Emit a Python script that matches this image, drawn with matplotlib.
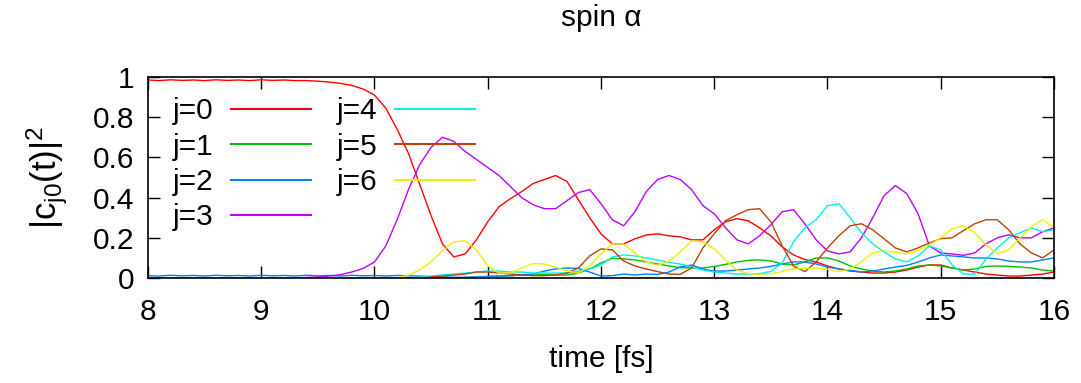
import numpy as np
import matplotlib
matplotlib.use("Agg")
import matplotlib.pyplot as plt

plt.rcParams['font.family'] = ['Liberation Sans', 'DejaVu Sans']
plt.rcParams['mathtext.default'] = 'regular'

# time grid [fs]
t = np.linspace(8.0, 16.0, 81)

# |c_j0(t)|^2, one value every 0.1 fs
j0 = [0.985, 0.982, 0.986, 0.983, 0.985, 0.982, 0.986, 0.983, 0.985, 0.982,
      0.986, 0.983, 0.985, 0.982, 0.982, 0.979, 0.975, 0.968, 0.958, 0.940,
      0.910, 0.845, 0.740, 0.620, 0.465, 0.310, 0.170, 0.105, 0.120, 0.190,
      0.280, 0.355, 0.395, 0.430, 0.470, 0.490, 0.510, 0.480, 0.390, 0.300,
      0.220, 0.170, 0.170, 0.195, 0.214, 0.220, 0.210, 0.205, 0.190, 0.190,
      0.240, 0.280, 0.295, 0.285, 0.250, 0.210, 0.155, 0.115, 0.092, 0.080,
      0.060, 0.045, 0.035, 0.030, 0.025, 0.025, 0.030, 0.040, 0.055, 0.065,
      0.065, 0.050, 0.040, 0.030, 0.020, 0.015, 0.010, 0.010, 0.015, 0.020,
      0.030]
j1 = [0.0] * 28 + [
      0.003, 0.005,
      0.008, 0.010, 0.012, 0.015, 0.015, 0.018, 0.015, 0.015, 0.025, 0.045,
      0.075, 0.098, 0.095, 0.090, 0.080, 0.070, 0.060, 0.052, 0.050, 0.050,
      0.058, 0.068, 0.080, 0.088, 0.090, 0.085, 0.070, 0.065, 0.080, 0.100,
      0.100, 0.085, 0.060, 0.045, 0.035, 0.030, 0.035, 0.045, 0.060, 0.065,
      0.060, 0.050, 0.040, 0.045, 0.058, 0.060, 0.058, 0.055, 0.050, 0.040,
      0.035]
j2 = [0.012, 0.010, 0.014, 0.011, 0.013, 0.010, 0.014, 0.011, 0.013, 0.010,
      0.014, 0.011, 0.013, 0.010, 0.014, 0.011, 0.013, 0.010, 0.014, 0.011,
      0.013, 0.010, 0.013, 0.011, 0.010, 0.007, 0.005, 0.004, 0.004, 0.005,
      0.008, 0.010, 0.012, 0.015, 0.020, 0.035, 0.045, 0.050, 0.048, 0.030,
      0.010, 0.012, 0.020, 0.015, 0.020, 0.018, 0.030, 0.055, 0.065, 0.045,
      0.035, 0.035, 0.040, 0.045, 0.050, 0.058, 0.070, 0.080, 0.080, 0.070,
      0.055, 0.045, 0.038, 0.030, 0.035, 0.045, 0.055, 0.063, 0.080, 0.100,
      0.115, 0.110, 0.105, 0.100, 0.100, 0.095, 0.085, 0.080, 0.080, 0.090,
      0.100]
j3 = [0.0] * 14 + [
      0.003, 0.005, 0.010, 0.017, 0.030, 0.048,
      0.080, 0.160, 0.290, 0.440, 0.565, 0.650, 0.700, 0.680, 0.630, 0.590,
      0.550, 0.510, 0.455, 0.400, 0.365, 0.345, 0.345, 0.385, 0.425, 0.440,
      0.370, 0.290, 0.260, 0.330, 0.430, 0.490, 0.510, 0.490, 0.440, 0.360,
      0.320, 0.250, 0.190, 0.170, 0.210, 0.265, 0.330, 0.340, 0.270, 0.190,
      0.135, 0.120, 0.130, 0.200, 0.300, 0.410, 0.460, 0.420, 0.320, 0.160,
      0.125, 0.120, 0.113, 0.125, 0.170, 0.200, 0.215, 0.200, 0.200, 0.230,
      0.250]
j4 = [0.0] * 24 + [
      0.005, 0.010, 0.015, 0.020, 0.025, 0.030,
      0.035, 0.035, 0.030, 0.030, 0.025, 0.025, 0.025, 0.025, 0.035, 0.045,
      0.065, 0.105, 0.115, 0.110, 0.100, 0.090, 0.078, 0.070, 0.055, 0.040,
      0.030, 0.025, 0.020, 0.020, 0.022, 0.033, 0.075, 0.180, 0.250, 0.290,
      0.360, 0.370, 0.300, 0.225, 0.170, 0.130, 0.095, 0.080, 0.110, 0.160,
      0.140, 0.065, 0.020, 0.020, 0.095, 0.150, 0.200, 0.225, 0.250, 0.230,
      0.240]
j5 = [0.0] * 25 + [
      0.005, 0.010, 0.015, 0.020, 0.030,
      0.030, 0.025, 0.020, 0.015, 0.012, 0.012, 0.015, 0.025, 0.050, 0.110,
      0.145, 0.140, 0.085, 0.060, 0.045, 0.032, 0.020, 0.018, 0.050, 0.150,
      0.220, 0.285, 0.315, 0.340, 0.345, 0.280, 0.160, 0.060, 0.032, 0.080,
      0.150, 0.210, 0.260, 0.270, 0.240, 0.195, 0.150, 0.130, 0.150, 0.175,
      0.196, 0.200, 0.236, 0.270, 0.290, 0.290, 0.240, 0.170, 0.125, 0.100,
      0.140]
j6 = [0.0] * 23 + [
      0.015, 0.040, 0.080, 0.135, 0.180, 0.185, 0.140,
      0.060, 0.025, 0.025, 0.050, 0.072, 0.070, 0.055, 0.035, 0.025, 0.060,
      0.120, 0.170, 0.170, 0.125, 0.080, 0.063, 0.085, 0.130, 0.185, 0.180,
      0.145, 0.090, 0.040, 0.022, 0.018, 0.022, 0.032, 0.046, 0.048, 0.050,
      0.045, 0.032, 0.045, 0.080, 0.125, 0.135, 0.128, 0.120, 0.138, 0.165,
      0.200, 0.245, 0.260, 0.225, 0.165, 0.120, 0.140, 0.200, 0.255, 0.290,
      0.250]

series = [j0, j1, j2, j3, j4, j5, j6]
labels = ['j=0', 'j=1', 'j=2', 'j=3', 'j=4', 'j=5', 'j=6']
colors = ['#ff0000', '#00c000', '#0080ff', '#c000ff', '#00eeee', '#c04000', '#eeee00']

fs = 21.5

fig = plt.figure(figsize=(10.81, 3.83), dpi=100)
ax = fig.add_axes([0.1369, 0.274, 0.8381, 0.525])

for y, lab, c in zip(series, labels, colors):
    ax.plot(t, y, color=c, lw=1.0, label=lab)

ax.set_xlim(8, 16)
ax.set_ylim(0, 1)
ax.set_xticks(range(8, 17))
ax.set_yticks([0, 0.2, 0.4, 0.6, 0.8, 1.0])
ax.set_yticklabels(['0', '0.2', '0.4', '0.6', '0.8', '1'])
ax.tick_params(direction='in', length=8.5, width=1.0, top=True, right=True,
               labelsize=fs)
ax.tick_params(axis='x', pad=14)
ax.tick_params(axis='y', pad=10)
for s in ax.spines.values():
    s.set_linewidth(1.2)

ax.set_xlabel('time [fs]', fontsize=fs, labelpad=14)
ax.set_ylabel(r'$|c_{j0}(t)|^2$', fontsize=25, labelpad=16)
ax.set_title('spin α', fontsize=fs, pad=37)

leg = ax.legend(ncol=2, loc='upper left', bbox_to_anchor=(0.027, 0.90),
                frameon=False, markerfirst=False, fontsize=fs,
                handlelength=2.67, handletextpad=0.6, columnspacing=0.87,
                labelspacing=0.25, borderaxespad=0.0, borderpad=0.0)
for h in leg.get_lines():
    h.set_linewidth(1.5)

fig.savefig('out.png', dpi=100)
